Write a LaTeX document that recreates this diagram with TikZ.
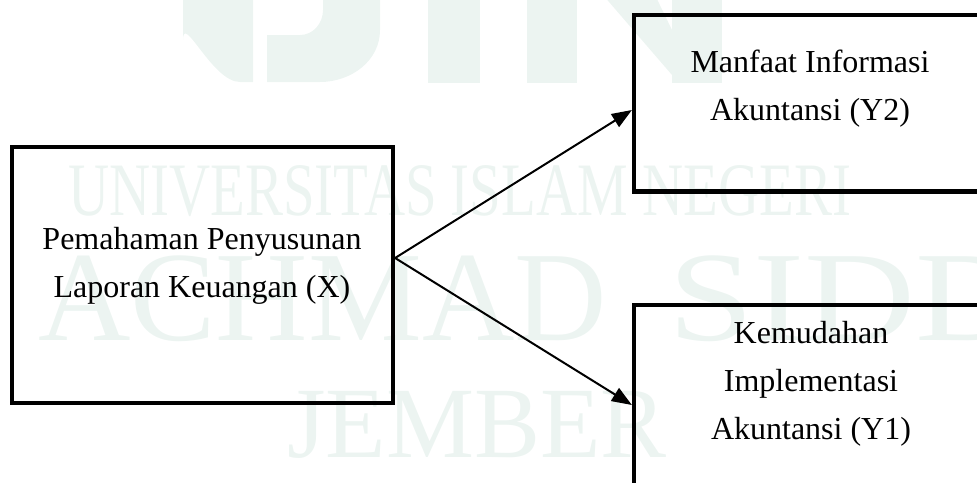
\documentclass[tikz,border=0pt]{standalone}
\usepackage{fontspec}
\setmainfont{Liberation Serif}
\usepackage{graphicx}
\usetikzlibrary{arrows.meta}
\definecolor{wm}{RGB}{236,244,241}
\tikzset{
  box/.style={draw, line width=4.2pt, inner sep=0pt},
  lbl/.style={align=center, inner sep=0pt, anchor=north, font=\fontsize{32}{48}\selectfont},
  arr/.style={-{Triangle[length=20pt,width=15pt]}, line width=2pt},
  wmtext/.style={text=wm, inner sep=0pt, anchor=base west}
}

\begin{document}
\begin{tikzpicture}[x=1pt,y=-1pt]
\useasboundingbox (0,0) rectangle (977,482);
\clip (0,0) rectangle (977,482);
\fill[wm] (183,-5) -- (183,40) to[out=90,in=180] (240,82) -- (253,82) -- (253,-5) -- cycle;
\fill[wm] (267,82) -- (267,35) -- (300,35) to[out=0,in=-90] (323,10) -- (323,-5) -- (380,-5) -- (380,30) to[out=-90,in=0] (320,82) -- cycle;
\fill[wm] (428,-5) rectangle (480,83);
\fill[wm] (527,-5) rectangle (577,83);
\fill[wm] (603,-5) -- (655,-5) -- (672,30) -- (672,75) -- cycle;
\fill[wm] (672,-5) rectangle (722,83);
\node[wmtext, font=\fontsize{75.5}{80}\selectfont] (wmuni) at (68,215) {\scalebox{0.754}[1]{UNIVERSITAS ISLAM NEGERI}};
\node[wmtext, font=\fontsize{128}{130}\selectfont] (wmname) at (38,340) {ACHMAD};
\node[wmtext, font=\fontsize{128}{130}\selectfont] (wmname2) at (668,340) {\scalebox{1.2}[1]{SIDDIQ}};
\node[wmtext, font=\fontsize{101}{105}\selectfont] (wmcity) at (287,457) {\scalebox{0.98}[1]{JEMBER}};

\node[box, minimum width=381pt, minimum height=256pt] (x) at (202.5,275) {};
\node[box, minimum width=356pt, minimum height=176.5pt] (y2) at (812,103.25) {};
\node[box, minimum width=356pt, minimum height=195pt] (y1) at (812,402.5) {};

\node[lbl] (xt) at (202,227) {Pemahaman Penyusunan\\Laporan Keuangan (X)};
\node[lbl] (y2t) at (810,50) {Manfaat Informasi\\Akuntansi (Y2)};
\node[lbl] (y1t) at (811,321) {Kemudahan\\Implementasi\\Akuntansi (Y1)};

\draw[arr] ([yshift=17pt]x.east) -- ([yshift=-6.75pt]y2.west);
\draw[arr] ([yshift=17pt]x.east) -- ([yshift=-2.5pt]y1.west);
\end{tikzpicture}
\end{document}
